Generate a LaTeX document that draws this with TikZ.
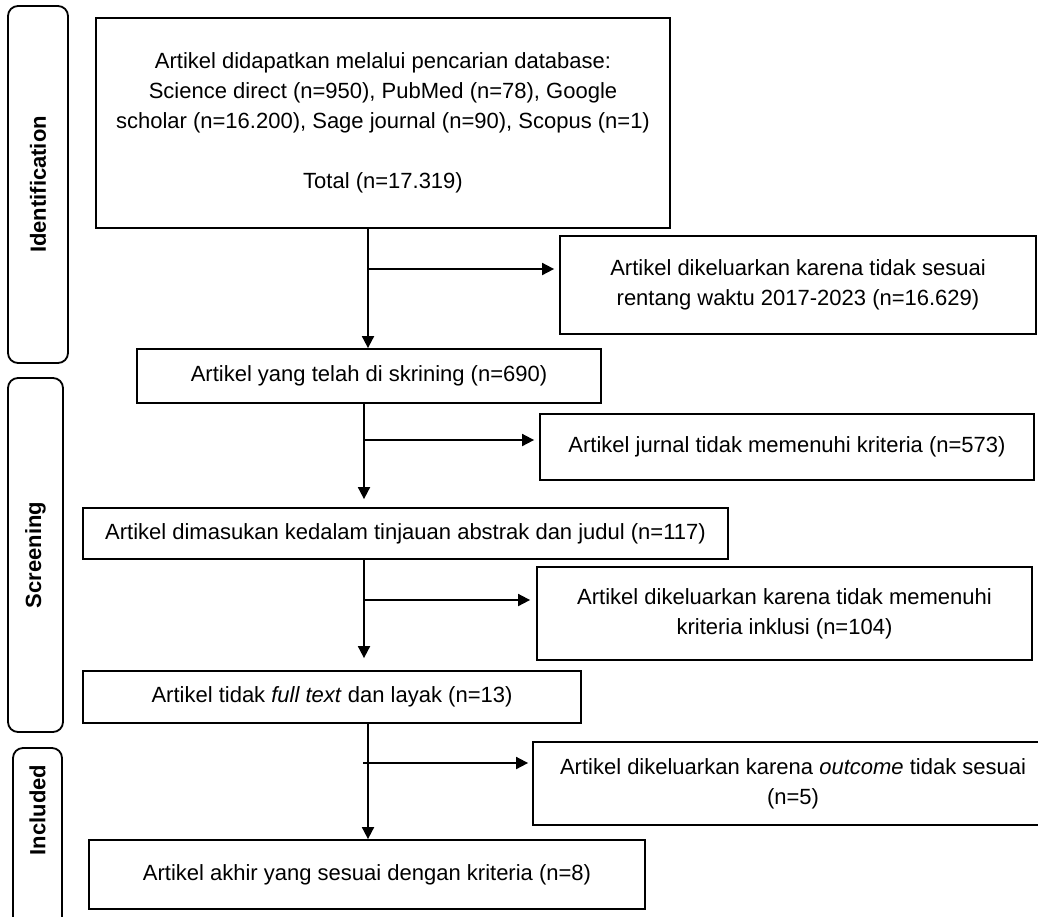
\documentclass[tikz,border=0pt]{standalone}
\usepackage{fontspec}
\setmainfont{Liberation Sans}
\usepackage{xcolor}
\usepackage{tikz}
\usetikzlibrary{calc,arrows,arrows.meta,positioning}
\tikzset{
  box/.style={draw, line width=0.9pt, align=center, inner sep=0pt, font=\fontsize{11}{15}\selectfont},
  phase/.style={draw, line width=0.9pt, rounded corners=5pt},
  phasetext/.style={rotate=90, inner sep=0pt, font=\fontsize{11}{13}\selectfont\bfseries},
  arr/.style={line width=0.9pt, -{Triangle[length=6pt,width=6pt]}}
}

\begin{document}
\begin{tikzpicture}[x=0.5pt,y=-0.5pt]
	\useasboundingbox (0,0) rectangle (1038,916);
	\node[phase, phasetext, minimum width=178.5pt, minimum height=30pt] (ident) at (38,184.5) {Identification};
	\node[phase, phasetext, minimum width=177pt, minimum height=27.5pt] (scrn) at (35.5,555) {Screening};
	\draw[phase] (13,748) rectangle (62,940);
	\node[phasetext] (incl) at (37.5,810) {Included};

	\node[box, minimum width=287pt, minimum height=105pt] (search) at (383,123)
		{Artikel didapatkan melalui pencarian database:\\
		 Science direct (n=950), PubMed (n=78), Google\\
		 scholar (n=16.200), Sage journal (n=90), Scopus (n=1)\\[15pt]
		 Total (n=17.319)};
	\node[box, minimum width=238pt, minimum height=49pt] (excl1) at (798,285)
		{Artikel dikeluarkan karena tidak sesuai\\ rentang waktu 2017-2023 (n=16.629)};
	\node[box, minimum width=232pt, minimum height=27pt] (screen) at (369,376)
		{Artikel yang telah di skrining (n=690)};
	\node[box, minimum width=247pt, minimum height=33pt] (excl2) at (787,447)
		{Artikel jurnal tidak memenuhi kriteria (n=573)};
	\node[box, minimum width=322.5pt, minimum height=25.5pt] (abstr) at (405.5,533.5)
		{Artikel dimasukan kedalam tinjauan abstrak dan judul (n=117)};
	\node[box, minimum width=247.5pt, minimum height=46.5pt] (excl3) at (784.5,613.5)
		{Artikel dikeluarkan karena tidak memenuhi\\ kriteria inklusi (n=104)};
	\node[box, minimum width=249pt, minimum height=26pt] (full) at (332,697)
		{Artikel tidak \textit{full text} dan layak (n=13)};
	\node[box, minimum width=260pt, minimum height=41.5pt] (excl4) at (793,783.5)
		{Artikel dikeluarkan karena \textit{outcome} tidak sesuai\\ (n=5)};
	\node[box, minimum width=278pt, minimum height=34.5pt] (final) at (367,874.5)
		{Artikel akhir yang sesuai dengan kriteria (n=8)};

	\coordinate (j1) at (368,269);
	\draw[arr] (search.south -| j1) -- (screen.north -| j1);
	\draw[arr, shorten >=2.5pt] (j1) -- (excl1.west |- j1);
	\coordinate (j2) at (364,440);
	\draw[arr, shorten >=4pt] (screen.south -| j2) -- (abstr.north -| j2);
	\draw[arr, shorten >=2.5pt] (j2) -- (excl2.west |- j2);
	\coordinate (j3) at (364,600);
	\draw[arr, shorten >=6pt] (abstr.south -| j3) -- (full.north -| j3);
	\draw[arr, shorten >=3pt] (j3) -- (excl3.west |- j3);
	\coordinate (j4) at (368,763);
	\draw[arr] (full.south -| j4) -- (final.north -| j4);
	\draw[arr, shorten >=2pt] ($(j4)+(-5,0)$) -- (excl4.west |- j4);
\end{tikzpicture}
\end{document}
